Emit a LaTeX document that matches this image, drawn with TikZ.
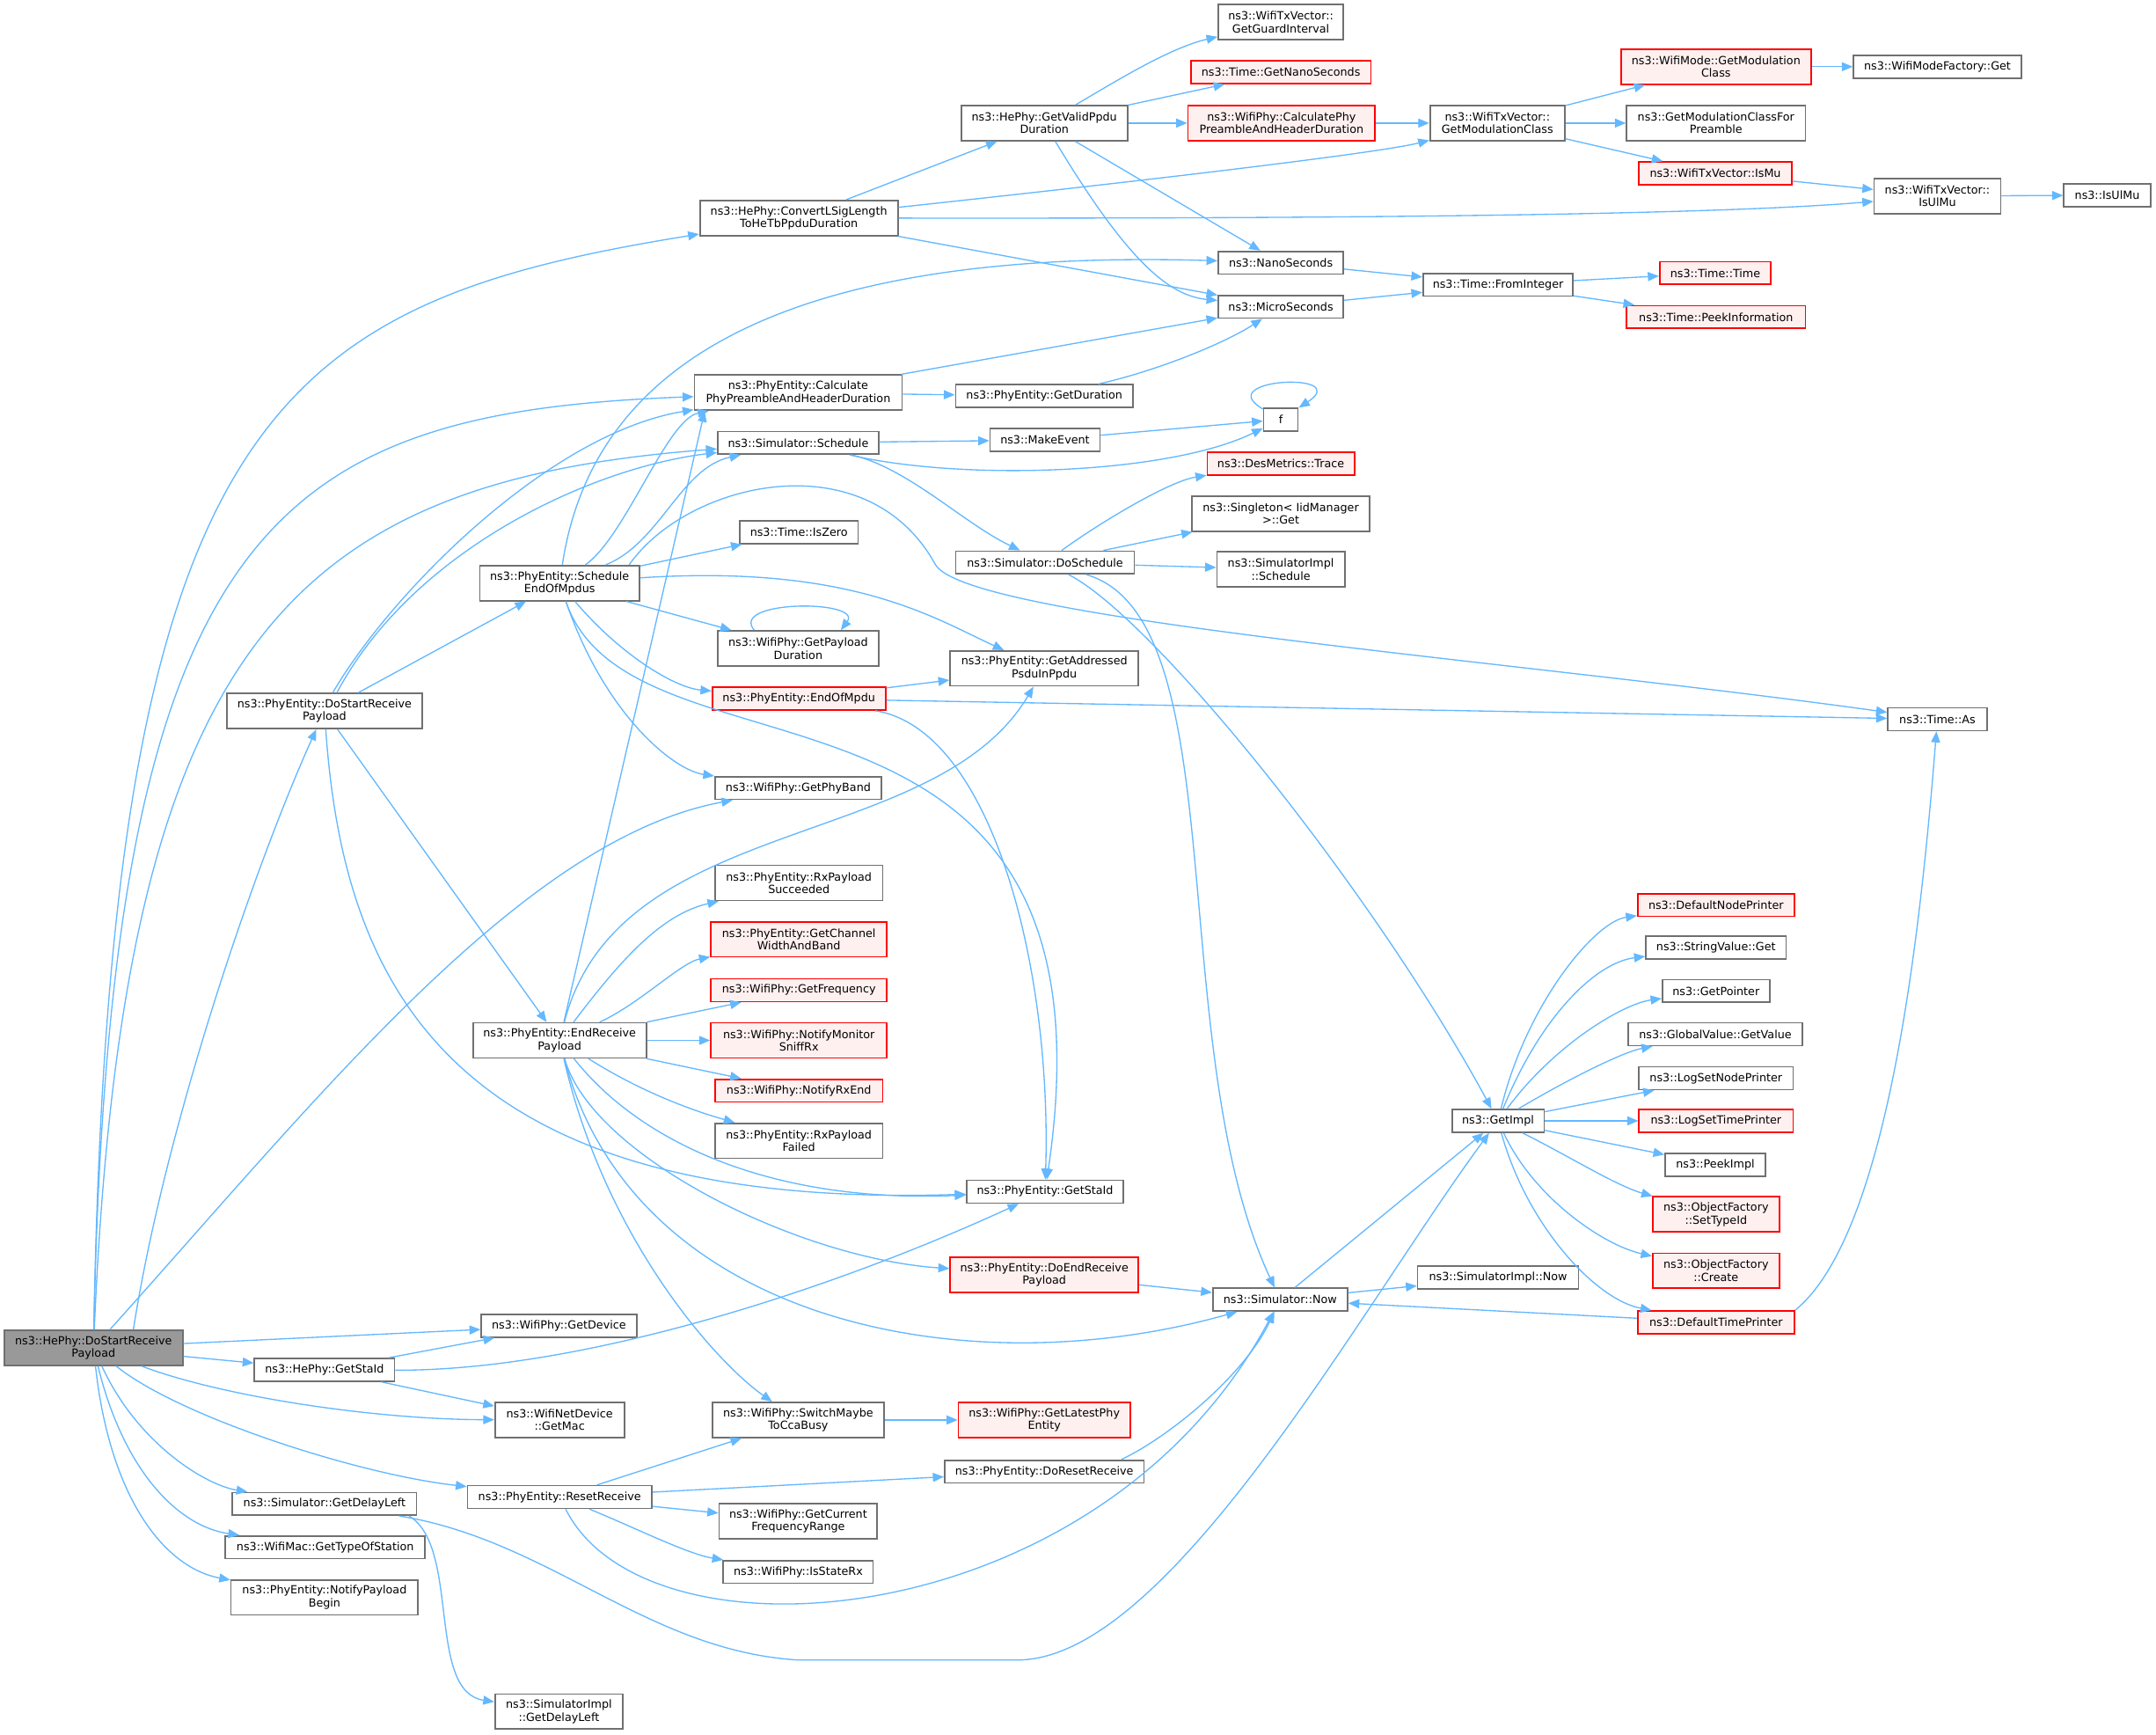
\documentclass[tikz,border=0pt]{standalone}
\usepackage{fontspec}
\setmainfont{DejaVu Sans}
\usetikzlibrary{arrows.meta}

\definecolor{edgeblue}{HTML}{63B8FF}
\definecolor{nodeline}{HTML}{707070}
\definecolor{nodered}{HTML}{FF0000}
\definecolor{redfill}{HTML}{FFF0F0}
\definecolor{rootfill}{HTML}{999999}

\begin{document}
\begin{tikzpicture}
      [ x=1pt, y=-1pt,
        fn/.style={draw=nodeline, fill=white, line width=1.1pt, inner sep=0pt,
                   align=center, font=\fontsize{8.15}{9.3}\selectfont},
        fnred/.style={fn, draw=nodered, fill=redfill},
        fnroot/.style={fn, fill=rootfill},
        oneline/.style={minimum height=16.5},
        twoline/.style={minimum height=25.5},
        callarrow/.style={draw, color=edgeblue, line width=0.85pt,
                          -{Triangle[length=8pt,width=6.5pt]}}
      ]
      \path[use as bounding box, fill=white] (0,0) rectangle (1568,1261);

      % column 1 and 2
      \node[fnroot,twoline,minimum width=130] (root)   at (68,980)      {ns3::HePhy::DoStartReceive\\Payload};
      \node[fn,twoline,minimum width=142]     (pdsrp)  at (236,517)     {ns3::PhyEntity::DoStartReceive\\Payload};
      \node[fn,oneline,minimum width=102]     (hgsid)  at (236,996)     {ns3::HePhy::GetStaId};
      \node[fn,oneline,minimum width=134]     (gdl)    at (236,1093.5)  {ns3::Simulator::GetDelayLeft};
      \node[fn,oneline,minimum width=145]     (gtos)   at (236.5,1125)  {ns3::WifiMac::GetTypeOfStation};
      \node[fn,twoline,minimum width=136]     (npb)    at (236,1161.5)  {ns3::PhyEntity::NotifyPayload\\Begin};

      % column 3
      \node[fn,twoline,minimum width=116]     (semp)   at (407,424)     {ns3::PhyEntity::Schedule\\EndOfMpdus};
      \node[fn,twoline,minimum width=126]     (erp)    at (407,756.5)   {ns3::PhyEntity::EndReceive\\Payload};
      \node[fn,oneline,minimum width=113]     (gdev)   at (406.5,964)   {ns3::WifiPhy::GetDevice};
      \node[fn,twoline,minimum width=94]      (gmac)   at (407,1032.5)  {ns3::WifiNetDevice\\::GetMac};
      \node[fn,oneline,minimum width=134]     (rr)     at (407,1088.5)  {ns3::PhyEntity::ResetReceive};
      \node[fn,twoline,minimum width=93]      (sigdl)  at (406.5,1244.5){ns3::SimulatorImpl\\::GetDelayLeft};

      % column 4
      \node[fn,twoline,minimum width=144]     (conv)   at (581,158.5)   {ns3::HePhy::ConvertLSigLength\\ToHeTbPpduDuration};
      \node[fn,twoline,minimum width=151]     (calc)   at (580.5,285.5) {ns3::PhyEntity::Calculate\\PhyPreambleAndHeaderDuration};
      \node[fn,oneline,minimum width=117]     (sched)  at (580.5,322)   {ns3::Simulator::Schedule};
      \node[fn,oneline,minimum width=86]      (iszero) at (581,387)     {ns3::Time::IsZero};
      \node[fn,twoline,minimum width=117]     (gpd)    at (580.5,471.5) {ns3::WifiPhy::GetPayload\\Duration};
      \node[fnred,oneline,minimum width=126]  (eom)    at (581,508)     {ns3::PhyEntity::EndOfMpdu};
      \node[fn,oneline,minimum width=121]     (gpb)    at (580.5,573)   {ns3::WifiPhy::GetPhyBand};
      \node[fn,twoline,minimum width=122]     (rxs)    at (581,642)     {ns3::PhyEntity::RxPayload\\Succeeded};
      \node[fnred,twoline,minimum width=128]  (gcwb)   at (581,683)     {ns3::PhyEntity::GetChannel\\WidthAndBand};
      \node[fnred,oneline,minimum width=128]  (gfreq)  at (581,720)     {ns3::WifiPhy::GetFrequency};
      \node[fnred,twoline,minimum width=128]  (nmsr)   at (581,756.5)   {ns3::WifiPhy::NotifyMonitor\\SniffRx};
      \node[fnred,oneline,minimum width=122]  (nre)    at (581,793)     {ns3::WifiPhy::NotifyRxEnd};
      \node[fn,twoline,minimum width=122]     (rxf)    at (581,829.5)   {ns3::PhyEntity::RxPayload\\Failed};
      \node[fn,twoline,minimum width=125]     (smcb)   at (580.5,1032.5){ns3::WifiPhy::SwitchMaybe\\ToCcaBusy};
      \node[fn,twoline,minimum width=115]     (gcfr)   at (580.5,1106)  {ns3::WifiPhy::GetCurrent\\FrequencyRange};
      \node[fn,oneline,minimum width=109]     (isrx)   at (580.5,1143)  {ns3::WifiPhy::IsStateRx};

      % column 5
      \node[fn,twoline,minimum width=121]     (gvpd)   at (759.5,89.5)  {ns3::HePhy::GetValidPpdu\\Duration};
      \node[fn,oneline,minimum width=129]     (gdur)   at (759.5,288)   {ns3::PhyEntity::GetDuration};
      \node[fn,oneline,minimum width=80]      (mkev)   at (760,320)     {ns3::MakeEvent};
      \node[fn,oneline,minimum width=130]     (dosch)  at (760,409)     {ns3::Simulator::DoSchedule};
      \node[fn,twoline,minimum width=137]     (gap)    at (759.5,486)   {ns3::PhyEntity::GetAddressed\\PsduInPpdu};
      \node[fn,oneline,minimum width=114]     (pgsid)  at (760,866.5)   {ns3::PhyEntity::GetStaId};
      \node[fnred,twoline,minimum width=137]  (derp)   at (759.5,927)   {ns3::PhyEntity::DoEndReceive\\Payload};
      \node[fnred,twoline,minimum width=125]  (glpe)   at (759.5,1032.5){ns3::WifiPhy::GetLatestPhy\\Entity};
      \node[fn,oneline,minimum width=145]     (drr)    at (759.5,1070)  {ns3::PhyEntity::DoResetReceive};

      % column 6
      \node[fn,twoline,minimum width=91]      (ggi)    at (931.5,16)    {ns3::WifiTxVector::\\GetGuardInterval};
      \node[fnred,oneline,minimum width=131]  (gns)    at (931.5,52.5)  {ns3::Time::GetNanoSeconds};
      \node[fnred,twoline,minimum width=136]  (wcalc)  at (932,89.5)    {ns3::WifiPhy::CalculatePhy\\PreambleAndHeaderDuration};
      \node[fn,oneline,minimum width=91]      (nanos)  at (931.5,191)   {ns3::NanoSeconds};
      \node[fn,oneline,minimum width=91]      (micros) at (931.5,223)   {ns3::MicroSeconds};
      \node[fn,oneline,minimum width=25]      (f)      at (931.5,305)   {f};
      \node[fnred,oneline,minimum width=107]  (dmt)    at (931.5,337)   {ns3::DesMetrics::Trace};
      \node[fn,twoline,minimum width=129]     (sing)   at (931.5,373.5) {ns3::Singleton< IidManager\\>::Get};
      \node[fn,twoline,minimum width=93]      (sisch)  at (931.5,414)   {ns3::SimulatorImpl\\::Schedule};
      \node[fn,oneline,minimum width=98]      (now)    at (931,945)     {ns3::Simulator::Now};

      % column 7
      \node[fn,twoline,minimum width=98]      (gmc)    at (1089,89.5)   {ns3::WifiTxVector::\\GetModulationClass};
      \node[fn,oneline,minimum width=109]     (fromint) at (1089.5,207) {ns3::Time::FromInteger};
      \node[fn,oneline,minimum width=67]      (gimpl)  at (1089.5,815)  {ns3::GetImpl};
      \node[fn,oneline,minimum width=117]     (sinow)  at (1089.5,929)  {ns3::SimulatorImpl::Now};

      % column 8
      \node[fnred,twoline,minimum width=138]  (wmgmc)  at (1248,48.5)   {ns3::WifiMode::GetModulation\\Class};
      \node[fn,twoline,minimum width=130]     (gmcp)   at (1248,89.5)   {ns3::GetModulationClassFor\\Preamble};
      \node[fnred,oneline,minimum width=111]  (ismu)   at (1247.5,126)  {ns3::WifiTxVector::IsMu};
      \node[fnred,oneline,minimum width=81]   (ttime)  at (1247.5,198.5){ns3::Time::Time};
      \node[fnred,oneline,minimum width=130]  (peek)   at (1248,230.5)  {ns3::Time::PeekInformation};
      \node[fnred,oneline,minimum width=114]  (dnp)    at (1248,658)    {ns3::DefaultNodePrinter};
      \node[fn,oneline,minimum width=102]     (svg)    at (1248,689)    {ns3::StringValue::Get};
      \node[fn,oneline,minimum width=78]      (gptr)   at (1248,720.5)  {ns3::GetPointer};
      \node[fn,oneline,minimum width=127]     (gvv)    at (1247.5,752)  {ns3::GlobalValue::GetValue};
      \node[fn,oneline,minimum width=112]     (lsnp)   at (1248,784)    {ns3::LogSetNodePrinter};
      \node[fnred,oneline,minimum width=112]  (lstp)   at (1248,815)    {ns3::LogSetTimePrinter};
      \node[fn,oneline,minimum width=73]      (pimpl)  at (1247.5,847)  {ns3::PeekImpl};
      \node[fnred,twoline,minimum width=92]   (ofst)   at (1248,883)    {ns3::ObjectFactory\\::SetTypeId};
      \node[fnred,twoline,minimum width=92]   (ofc)    at (1248,924)    {ns3::ObjectFactory\\::Create};
      \node[fnred,oneline,minimum width=114]  (dtp)    at (1248,961.5)  {ns3::DefaultTimePrinter};

      % column 9 and 10
      \node[fn,oneline,minimum width=122]     (wmfg)   at (1409,48.5)   {ns3::WifiModeFactory::Get};
      \node[fn,twoline,minimum width=92]      (txulmu) at (1409,142.5)  {ns3::WifiTxVector::\\IsUlMu};
      \node[fn,oneline,minimum width=72]      (tas)    at (1409,523)    {ns3::Time::As};
      \node[fn,oneline,minimum width=63]      (isulmu) at (1532.5,142)  {ns3::IsUlMu};

      % HePhy::DoStartReceivePayload
      \draw[callarrow] (root) .. controls (80,300) and (200,220) .. (conv);
      \draw[callarrow] (root) .. controls (80,380) and (200,300) .. (calc);
      \draw[callarrow] (root) .. controls (90,470) and (210,350) .. (sched);
      \draw[callarrow] ([xshift=29pt]root.north) .. controls (120,820) and (185,630) .. (pdsrp);
      \draw[callarrow] (root) .. controls (230,800) and (380,610) .. (gpb);
      \path[callarrow] (root) edge (gdev) edge (hgsid);
      \draw[callarrow] (root) .. controls (160,1015) and (270,1032) .. (gmac);
      \draw[callarrow] (root) .. controls (130,1030) and (260,1072) .. (rr);
      \draw[callarrow] (root) .. controls (100,1050) and (150,1080) .. (gdl);
      \draw[callarrow] (root) .. controls (90,1070) and (130,1110) .. (gtos);
      \draw[callarrow] (root) .. controls (80,1090) and (120,1140) .. (npb);

      % HePhy::GetStaId
      \path[callarrow] (hgsid) edge (gdev) edge (gmac);
      \draw[callarrow] (hgsid) .. controls (420,997) and (600,940) .. (pgsid);

      % PhyEntity::DoStartReceivePayload
      \path[callarrow] (pdsrp) edge (semp) edge (erp);
      \draw[callarrow] ([xshift=6pt]pdsrp.north) .. controls (285,430) and (400,315) .. (calc);
      \draw[callarrow] ([xshift=9pt]pdsrp.north) .. controls (300,400) and (430,340) .. (sched);
      \draw[callarrow] (pdsrp) .. controls (250,720) and (330,880) .. (pgsid);

      % PhyEntity::ScheduleEndOfMpdus
      \draw[callarrow] (semp) .. controls (455,390) and (485,305) .. (calc);
      \draw[callarrow] (semp) .. controls (480,395) and (495,340) .. (sched);
      \draw[callarrow] (semp) .. controls (430,270) and (560,180) .. (nanos);
      \path[callarrow] (semp) edge (iszero) edge (gpd);
      \draw[callarrow] (semp) .. controls (450,475) and (490,500) .. (eom);
      \draw[callarrow] (semp) .. controls (440,520) and (490,560) .. (gpb);
      \draw[callarrow] (semp) .. controls (460,580) and (820,460) .. (pgsid);
      \draw[callarrow] (semp) .. controls (620,410) and (680,450) .. (gap);
      \draw[callarrow] ([xshift=-8pt]semp.north east) .. controls (500,350) and (630,320) .. (680,410)
                       .. controls (700,450) and (1100,480) .. (tas);

      % GetPayloadDuration, EndOfMpdu
      \draw[callarrow] ([xshift=-32pt]gpd.north) .. controls (530,436) and (628,436) .. ([xshift=31pt]gpd.north);
      \path[callarrow] (eom) edge (gap) edge (tas);
      \draw[callarrow] (eom) .. controls (720,530) and (765,700) .. (pgsid);

      % PhyEntity::EndReceivePayload
      \draw[callarrow] (erp) -- ([xshift=-68pt]calc.south);
      \draw[callarrow] (erp) .. controls (450,590) and (680,620) .. (gap);
      \draw[callarrow] (erp) .. controls (450,700) and (480,665) .. (rxs);
      \draw[callarrow] (erp) .. controls (465,730) and (495,700) .. (gcwb);
      \path[callarrow] (erp) edge (gfreq) edge (nmsr) edge (nre);
      \draw[callarrow] (erp) .. controls (460,790) and (495,805) .. (rxf);
      \draw[callarrow] (erp) .. controls (465,830) and (560,875) .. (pgsid);
      \draw[callarrow] (erp) .. controls (430,840) and (580,915) .. (derp);
      \draw[callarrow] (erp) .. controls (460,960) and (700,1010) .. (now);
      \draw[callarrow] (erp) .. controls (440,900) and (520,990) .. (smcb);

      % ResetReceive, GetDelayLeft
      \path[callarrow] (rr) edge (smcb) edge (drr) edge (gcfr);
      \draw[callarrow] (rr) .. controls (460,1110) and (500,1130) .. (isrx);
      \draw[callarrow] (rr) .. controls (470,1215) and (800,1190) .. (now);
      \draw[callarrow] ([xshift=-17pt]drr.north east) .. controls (850,1045) and (905,1000) .. (now);
      \draw[callarrow] (gdl) .. controls (400,1120) and (470,1200) .. (580,1207) -- (740,1207)
                       .. controls (850,1207) and (990,950) .. (gimpl);
      \draw[callarrow] ([xshift=-6pt]gdl.south east) .. controls (335,1125) and (310,1230) .. (sigdl);
      \path[callarrow] (smcb) edge (glpe);
      \path[callarrow] (derp) edge (now);

      % preamble durations
      \path[callarrow] (calc) edge (micros) edge (gdur);
      \draw[callarrow] (gdur) .. controls (840,270) and (890,250) .. (micros);
      \path[callarrow] (conv) edge (gvpd) edge (micros);
      \draw[callarrow] (conv) .. controls (800,135) and (1000,112) .. (gmc);
      \draw[callarrow] (conv) .. controls (1000,159) and (1250,156) .. (txulmu);
      \draw[callarrow] (gvpd) .. controls (810,60) and (850,35) .. (ggi);
      \path[callarrow] (gvpd) edge (gns) edge (wcalc) edge (nanos);
      \draw[callarrow] (gvpd) .. controls (820,190) and (850,215) .. (micros);
      \path[callarrow] (wcalc) edge (gmc);
      \path[callarrow] (gmc) edge (wmgmc) edge (gmcp) edge (ismu);
      \path[callarrow] (wmgmc) edge (wmfg);
      \path[callarrow] (ismu) edge (txulmu);
      \path[callarrow] (txulmu) edge (isulmu);
      \path[callarrow] (nanos) edge (fromint);
      \path[callarrow] (micros) edge (fromint);
      \path[callarrow] (fromint) edge (ttime) edge (peek);

      % Simulator::Schedule
      \path[callarrow] (sched) edge (mkev);
      \draw[callarrow] (sched) .. controls (700,350) and (850,345) .. (f);
      \draw[callarrow] (sched) .. controls (660,340) and (700,380) .. (dosch);
      \path[callarrow] (mkev) edge (f);
      \draw[callarrow] (f) .. controls (880,275) and (985,270) .. (f);
      \draw[callarrow] (dosch) .. controls (800,380) and (850,350) .. (dmt);
      \path[callarrow] (dosch) edge (sing) edge (sisch);
      \draw[callarrow] (dosch) .. controls (900,450) and (845,760) .. (now);
      \draw[callarrow] (dosch) .. controls (840,450) and (1000,650) .. (gimpl);

      % Simulator::Now, GetImpl
      \path[callarrow] (now) edge (gimpl) edge (sinow);
      \draw[callarrow] (gimpl) .. controls (1110,730) and (1160,670) .. (dnp);
      \draw[callarrow] (gimpl) .. controls (1120,740) and (1160,700) .. (svg);
      \draw[callarrow] (gimpl) .. controls (1130,760) and (1180,730) .. (gptr);
      \draw[callarrow] (gimpl) .. controls (1140,785) and (1180,765) .. (gvv);
      \path[callarrow] (gimpl) edge (lsnp) edge (lstp) edge (pimpl);
      \draw[callarrow] (gimpl) .. controls (1140,840) and (1175,862) .. (ofst);
      \draw[callarrow] (gimpl) .. controls (1115,870) and (1165,905) .. (ofc);
      \draw[callarrow] (gimpl) .. controls (1110,890) and (1160,945) .. (dtp);
      \path[callarrow] (dtp) edge (now);
      \draw[callarrow] (dtp.north east) .. controls (1370,900) and (1395,700) .. (tas);
\end{tikzpicture}
\end{document}
